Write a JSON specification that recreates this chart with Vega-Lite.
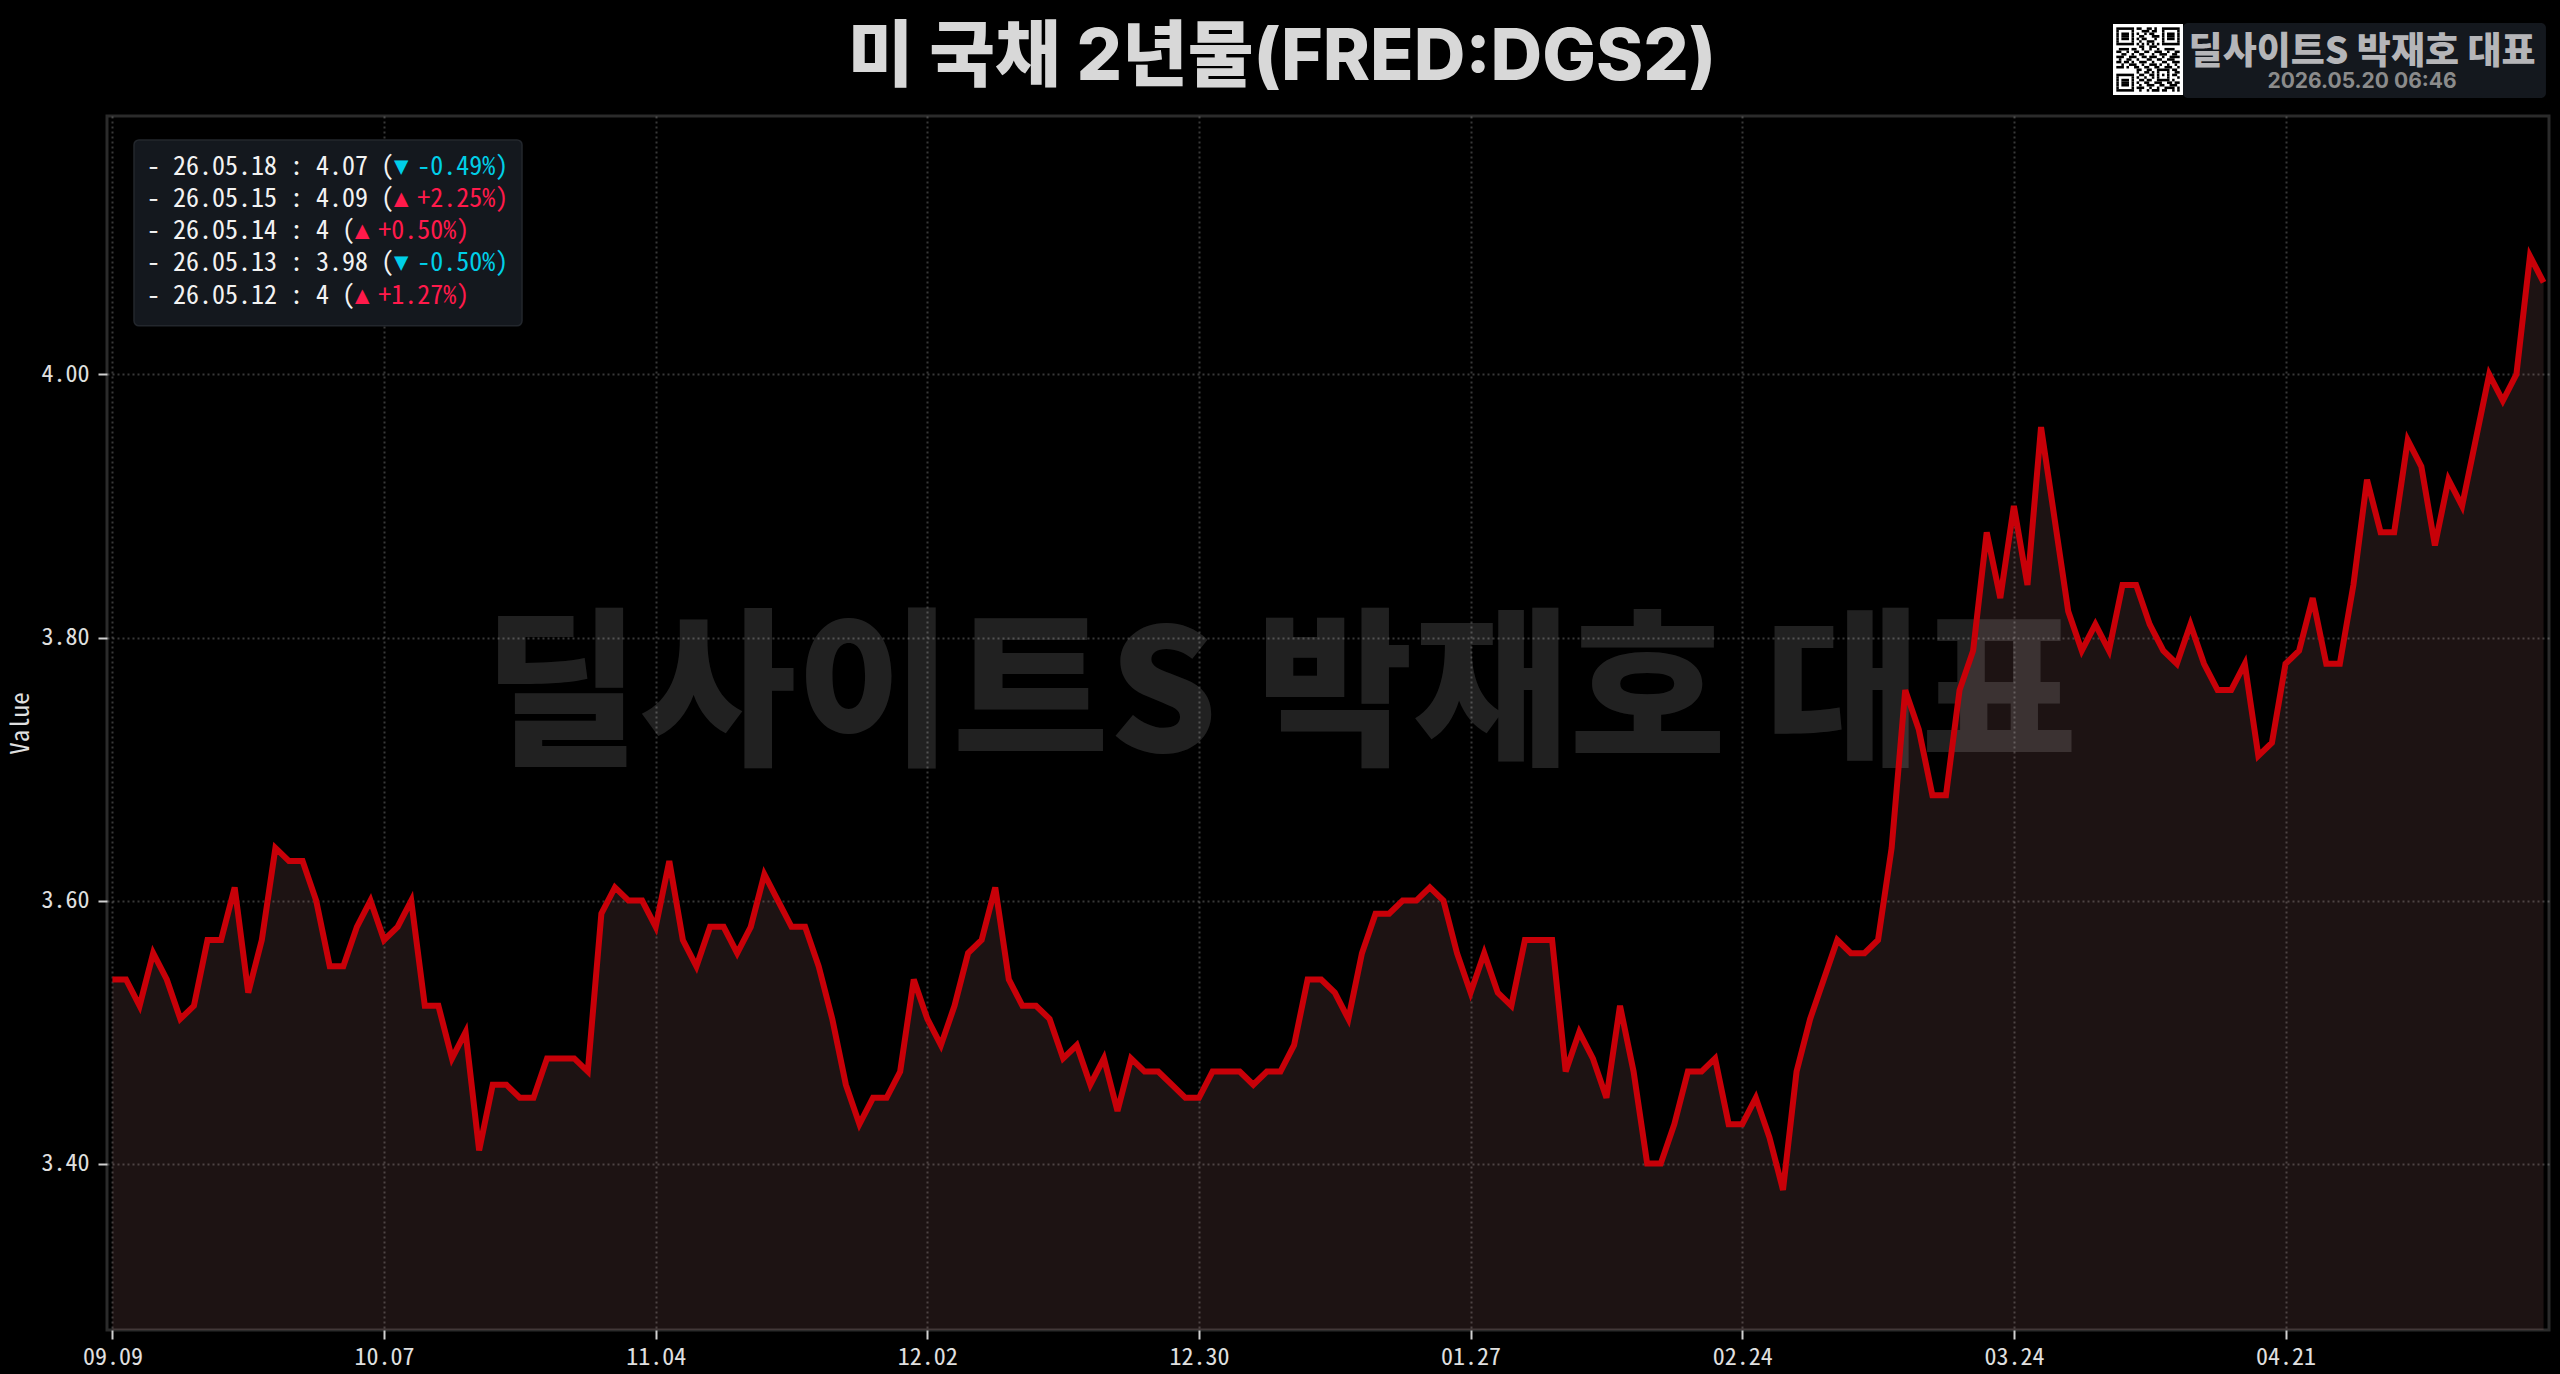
{"$schema":"https://vega.github.io/schema/vega-lite/v6.json","width":2442,"height":1214,"autosize":"none","padding":{"left":107,"top":116,"right":11,"bottom":44},"background":"#000000","config":{"view":{"stroke":"#2b2b2b","strokeWidth":3}},"title":{"text":"미 국채 2년물(FRED:DGS2)","anchor":"middle","dx":-46,"offset":-73,"fontSize":71.5,"font":"Inter, Noto Sans CJK KR","fontWeight":800,"color":"#d8d8d8"},
"datasets":{"yields":[{"date":"09.09","value":3.54},{"date":"09.10","value":3.54},{"date":"09.11","value":3.52},{"date":"09.12","value":3.56},{"date":"09.15","value":3.54},{"date":"09.16","value":3.51},{"date":"09.17","value":3.52},{"date":"09.18","value":3.57},{"date":"09.19","value":3.57},{"date":"09.22","value":3.61},{"date":"09.23","value":3.53},{"date":"09.24","value":3.57},{"date":"09.25","value":3.64},{"date":"09.26","value":3.63},{"date":"09.29","value":3.63},{"date":"09.30","value":3.60},{"date":"10.01","value":3.55},{"date":"10.02","value":3.55},{"date":"10.03","value":3.58},{"date":"10.06","value":3.60},{"date":"10.07","value":3.57},{"date":"10.08","value":3.58},{"date":"10.09","value":3.60},{"date":"10.10","value":3.52},{"date":"10.13","value":3.52},{"date":"10.14","value":3.48},{"date":"10.15","value":3.50},{"date":"10.16","value":3.41},{"date":"10.17","value":3.46},{"date":"10.20","value":3.46},{"date":"10.21","value":3.45},{"date":"10.22","value":3.45},{"date":"10.23","value":3.48},{"date":"10.24","value":3.48},{"date":"10.27","value":3.48},{"date":"10.28","value":3.47},{"date":"10.29","value":3.59},{"date":"10.30","value":3.61},{"date":"10.31","value":3.60},{"date":"11.03","value":3.60},{"date":"11.04","value":3.58},{"date":"11.05","value":3.63},{"date":"11.06","value":3.57},{"date":"11.07","value":3.55},{"date":"11.10","value":3.58},{"date":"11.11","value":3.58},{"date":"11.12","value":3.56},{"date":"11.13","value":3.58},{"date":"11.14","value":3.62},{"date":"11.17","value":3.60},{"date":"11.18","value":3.58},{"date":"11.19","value":3.58},{"date":"11.20","value":3.55},{"date":"11.21","value":3.51},{"date":"11.24","value":3.46},{"date":"11.25","value":3.43},{"date":"11.26","value":3.45},{"date":"11.27","value":3.45},{"date":"11.28","value":3.47},{"date":"12.01","value":3.54},{"date":"12.02","value":3.51},{"date":"12.03","value":3.49},{"date":"12.04","value":3.52},{"date":"12.05","value":3.56},{"date":"12.08","value":3.57},{"date":"12.09","value":3.61},{"date":"12.10","value":3.54},{"date":"12.11","value":3.52},{"date":"12.12","value":3.52},{"date":"12.15","value":3.51},{"date":"12.16","value":3.48},{"date":"12.17","value":3.49},{"date":"12.18","value":3.46},{"date":"12.19","value":3.48},{"date":"12.22","value":3.44},{"date":"12.23","value":3.48},{"date":"12.24","value":3.47},{"date":"12.25","value":3.47},{"date":"12.26","value":3.46},{"date":"12.29","value":3.45},{"date":"12.30","value":3.45},{"date":"12.31","value":3.47},{"date":"01.01","value":3.47},{"date":"01.02","value":3.47},{"date":"01.05","value":3.46},{"date":"01.06","value":3.47},{"date":"01.07","value":3.47},{"date":"01.08","value":3.49},{"date":"01.09","value":3.54},{"date":"01.12","value":3.54},{"date":"01.13","value":3.53},{"date":"01.14","value":3.51},{"date":"01.15","value":3.56},{"date":"01.16","value":3.59},{"date":"01.19","value":3.59},{"date":"01.20","value":3.60},{"date":"01.21","value":3.60},{"date":"01.22","value":3.61},{"date":"01.23","value":3.60},{"date":"01.26","value":3.56},{"date":"01.27","value":3.53},{"date":"01.28","value":3.56},{"date":"01.29","value":3.53},{"date":"01.30","value":3.52},{"date":"02.02","value":3.57},{"date":"02.03","value":3.57},{"date":"02.04","value":3.57},{"date":"02.05","value":3.47},{"date":"02.06","value":3.50},{"date":"02.09","value":3.48},{"date":"02.10","value":3.45},{"date":"02.11","value":3.52},{"date":"02.12","value":3.47},{"date":"02.13","value":3.40},{"date":"02.16","value":3.40},{"date":"02.17","value":3.43},{"date":"02.18","value":3.47},{"date":"02.19","value":3.47},{"date":"02.20","value":3.48},{"date":"02.23","value":3.43},{"date":"02.24","value":3.43},{"date":"02.25","value":3.45},{"date":"02.26","value":3.42},{"date":"02.27","value":3.38},{"date":"03.02","value":3.47},{"date":"03.03","value":3.51},{"date":"03.04","value":3.54},{"date":"03.05","value":3.57},{"date":"03.06","value":3.56},{"date":"03.09","value":3.56},{"date":"03.10","value":3.57},{"date":"03.11","value":3.64},{"date":"03.12","value":3.76},{"date":"03.13","value":3.73},{"date":"03.16","value":3.68},{"date":"03.17","value":3.68},{"date":"03.18","value":3.76},{"date":"03.19","value":3.79},{"date":"03.20","value":3.88},{"date":"03.23","value":3.83},{"date":"03.24","value":3.90},{"date":"03.25","value":3.84},{"date":"03.26","value":3.96},{"date":"03.27","value":3.89},{"date":"03.30","value":3.82},{"date":"03.31","value":3.79},{"date":"04.01","value":3.81},{"date":"04.02","value":3.79},{"date":"04.03","value":3.84},{"date":"04.06","value":3.84},{"date":"04.07","value":3.81},{"date":"04.08","value":3.79},{"date":"04.09","value":3.78},{"date":"04.10","value":3.81},{"date":"04.13","value":3.78},{"date":"04.14","value":3.76},{"date":"04.15","value":3.76},{"date":"04.16","value":3.78},{"date":"04.17","value":3.71},{"date":"04.20","value":3.72},{"date":"04.21","value":3.78},{"date":"04.22","value":3.79},{"date":"04.23","value":3.83},{"date":"04.24","value":3.78},{"date":"04.27","value":3.78},{"date":"04.28","value":3.84},{"date":"04.29","value":3.92},{"date":"04.30","value":3.88},{"date":"05.01","value":3.88},{"date":"05.04","value":3.95},{"date":"05.05","value":3.93},{"date":"05.06","value":3.87},{"date":"05.07","value":3.92},{"date":"05.08","value":3.90},{"date":"05.11","value":3.95},{"date":"05.12","value":4.00},{"date":"05.13","value":3.98},{"date":"05.14","value":4.00},{"date":"05.15","value":4.09},{"date":"05.18","value":4.07}],
"recent":[{"date":"26.05.18","value":"4.07","dir":"▼","pct":"-0.49%"},{"date":"26.05.15","value":"4.09","dir":"▲","pct":"+2.25%"},{"date":"26.05.14","value":"4","dir":"▲","pct":"+0.50%"},{"date":"26.05.13","value":"3.98","dir":"▼","pct":"-0.50%"},{"date":"26.05.12","value":"4","dir":"▲","pct":"+1.27%"}],
"qr":[[0,0,7],[0,8,10],[0,12,14],[0,15,16],[0,18,25],[1,0,1],[1,6,7],[1,10,13],[1,14,16],[1,18,19],[1,24,25],[2,0,1],[2,2,5],[2,6,7],[2,8,9],[2,11,12],[2,13,15],[2,18,19],[2,20,23],[2,24,25],[3,0,1],[3,2,5],[3,6,7],[3,9,11],[3,14,17],[3,18,19],[3,20,23],[3,24,25],[4,0,1],[4,2,5],[4,6,7],[4,8,9],[4,10,12],[4,15,16],[4,18,19],[4,20,23],[4,24,25],[5,0,1],[5,6,7],[5,9,10],[5,12,15],[5,18,19],[5,24,25],[6,0,7],[6,8,9],[6,10,11],[6,12,13],[6,14,15],[6,16,17],[6,18,25],[7,9,11],[7,13,16],[8,1,5],[8,6,8],[8,10,11],[8,13,14],[8,16,17],[8,19,23],[9,0,2],[9,4,5],[9,7,9],[9,11,13],[9,15,18],[9,20,21],[9,23,25],[10,2,4],[10,6,7],[10,9,11],[10,14,15],[10,17,20],[10,22,24],[11,0,3],[11,5,8],[11,10,12],[11,13,16],[11,18,19],[11,21,25],[12,1,2],[12,4,6],[12,8,9],[12,12,14],[12,16,18],[12,20,23],[13,0,2],[13,3,5],[13,6,7],[13,9,12],[13,14,15],[13,18,20],[13,22,25],[14,2,3],[14,5,8],[14,10,11],[14,13,16],[14,17,18],[14,20,21],[14,23,24],[15,0,3],[15,4,5],[15,7,9],[15,11,13],[15,15,17],[15,19,22],[15,24,25],[16,8,10],[16,12,14],[16,16,21],[16,22,24],[17,8,9],[17,11,13],[17,14,15],[17,16,17],[17,20,21],[17,23,25],[18,0,7],[18,9,11],[18,13,15],[18,16,17],[18,18,19],[18,20,21],[18,22,24],[19,0,1],[19,6,7],[19,8,9],[19,11,12],[19,14,15],[19,16,17],[19,20,21],[19,24,25],[20,0,1],[20,2,5],[20,6,7],[20,9,11],[20,12,14],[20,16,21],[20,22,23],[21,0,1],[21,2,5],[21,6,7],[21,8,9],[21,11,13],[21,15,18],[21,20,22],[21,23,25],[22,0,1],[22,2,5],[22,6,7],[22,9,10],[22,12,15],[22,17,19],[22,21,24],[23,0,1],[23,6,7],[23,8,11],[23,13,14],[23,16,17],[23,19,23],[23,24,25],[24,0,7],[24,9,10],[24,12,13],[24,14,17],[24,18,20],[24,22,23],[24,24,25]]},
"layer":[
{"layer":[
{"data":{"name":"yields"},"mark":{"type":"area","fill":"#f29e9e","opacity":0.12,"stroke":null},"encoding":{"x":{"field":"date","type":"ordinal","sort":null,"scale":{"type":"point","padding":0.4},"title":null,"axis":{"values":["09.09","10.07","11.04","12.02","12.30","01.27","02.24","03.24","04.21"],"labelAngle":0,"labelFont":"Noto Sans Mono CJK KR, DejaVu Sans Mono","labelFontSize":24,"labelColor":"#e0e0e0","labelPadding":6,"tickColor":"#d0d0d0","tickSize":9,"tickWidth":2,"domain":false,"grid":true,"gridColor":"#ffffff","gridOpacity":0.22,"gridDash":[2,3],"gridWidth":2}},"y":{"field":"value","type":"quantitative","scale":{"domain":[3.2735,4.1965],"nice":false,"zero":false},"title":"Value","axis":{"values":[3.4,3.6,3.8,4.0],"format":".2f","labelFont":"Noto Sans Mono CJK KR, DejaVu Sans Mono","labelFontSize":24,"labelColor":"#e0e0e0","labelPadding":9,"tickColor":"#d0d0d0","tickSize":9,"tickWidth":2,"domain":false,"grid":true,"gridColor":"#ffffff","gridOpacity":0.22,"gridDash":[2,3],"gridWidth":2,"titleFont":"Noto Sans Mono CJK KR, DejaVu Sans Mono","titleFontSize":25,"titleFontWeight":"normal","titleColor":"#e0e0e0","titlePadding":8}},"y2":{"datum":3.2735}}},
{"data":{"name":"yields"},"transform":[{"filter":"datum.date === '01.07'"}],"mark":{"type":"text","text":"딜사이트S 박재호 대표","font":"Noto Sans CJK KR","fontWeight":900,"fontSize":170,"fill":"#ffffff","opacity":0.13,"align":"center","baseline":"middle"},"encoding":{"x":{"field":"date","type":"ordinal","sort":null},"y":{"datum":3.752}}},
{"data":{"name":"yields"},"mark":{"type":"line","stroke":"#c80008","strokeWidth":6,"strokeJoin":"miter"},"encoding":{"x":{"field":"date","type":"ordinal","sort":null},"y":{"field":"value","type":"quantitative"}}}
]},
{"layer":[
{"data":{"values":[{}]},"mark":{"type":"rect","fill":"#14181e","stroke":"#23272d","strokeWidth":1.5,"cornerRadius":5},"encoding":{"x":{"datum":0,"type":"quantitative","scale":{"domain":[0,29.85],"range":[27,415],"nice":false,"zero":false},"axis":null},"x2":{"datum":29.85},"y":{"datum":0.165,"type":"quantitative","scale":{"domain":[0,6],"range":[18.6,211.8],"nice":false,"zero":false},"axis":null},"y2":{"datum":5.94}}},
{"data":{"name":"recent"},"transform":[{"window":[{"op":"row_number","as":"row"}]},{"calculate":"'- ' + datum.date + ' : ' + datum.value + ' ('","as":"head"},{"calculate":"1","as":"start"}],"mark":{"type":"text","font":"Noto Sans Mono CJK KR, DejaVu Sans Mono","fontSize":26,"fill":"#f2f2f2","align":"left","baseline":"middle"},"encoding":{"x":{"field":"start","type":"quantitative"},"y":{"field":"row","type":"quantitative"},"text":{"field":"head"}}},
{"data":{"name":"recent"},"transform":[{"window":[{"op":"row_number","as":"row"}]},{"calculate":"1 + length('- ' + datum.date + ' : ' + datum.value + ' (')","as":"start"}],"mark":{"type":"text","font":"DejaVu Sans Mono","fontSize":24,"align":"left","baseline":"middle"},"encoding":{"x":{"field":"start","type":"quantitative"},"y":{"field":"row","type":"quantitative"},"text":{"field":"dir"},"color":{"field":"dir","type":"nominal","scale":{"domain":["▲","▼"],"range":["#ff1a4b","#00cfe8"]},"legend":null}}},
{"data":{"name":"recent"},"transform":[{"window":[{"op":"row_number","as":"row"}]},{"calculate":"datum.pct + ')'","as":"tail"},{"calculate":"2.8 + length('- ' + datum.date + ' : ' + datum.value + ' (')","as":"start"}],"mark":{"type":"text","font":"Noto Sans Mono CJK KR, DejaVu Sans Mono","fontSize":26,"align":"left","baseline":"middle"},"encoding":{"x":{"field":"start","type":"quantitative"},"y":{"field":"row","type":"quantitative"},"text":{"field":"tail"},"color":{"field":"dir","type":"nominal"}}}
]},
{"layer":[
{"data":{"values":[{}]},"mark":{"type":"rect","fill":"#14181e","cornerRadius":5},"encoding":{"x":{"datum":26.3,"type":"quantitative","scale":{"domain":[-1.3,26.3],"range":[2006,2076],"nice":false,"zero":false},"axis":null},"x2":{"datum":169.4},"y":{"datum":-1.69,"type":"quantitative","scale":{"domain":[-1.3,26.3],"range":[-92,-21],"nice":false,"zero":false},"axis":null},"y2":{"datum":27.47}}},
{"data":{"values":[{}]},"mark":{"type":"rect","fill":"#ffffff"},"encoding":{"x":{"datum":-1.3,"type":"quantitative"},"x2":{"datum":26.3},"y":{"datum":-1.3,"type":"quantitative"},"y2":{"datum":26.3}}},
{"data":{"name":"qr"},"transform":[{"calculate":"datum[0]","as":"row"},{"calculate":"datum[1]","as":"from"},{"calculate":"datum[2]","as":"to"},{"calculate":"datum[0] + 1","as":"rowEnd"}],"mark":{"type":"rect","fill":"#000000"},"encoding":{"x":{"field":"from","type":"quantitative"},"x2":{"field":"to"},"y":{"field":"row","type":"quantitative"},"y2":{"field":"rowEnd"}}},
{"data":{"values":[{}]},"mark":{"type":"text","text":"딜사이트S 박재호 대표","font":"Noto Sans CJK KR","fontWeight":900,"fontSize":37,"fill":"#b5b5b8","align":"center","baseline":"middle"},"encoding":{"x":{"datum":96.9,"type":"quantitative"},"y":{"datum":9.98,"type":"quantitative"}}},
{"data":{"values":[{}]},"mark":{"type":"text","text":"2026.05.20 06:46","font":"Inter, Noto Sans CJK KR","fontWeight":700,"fontSize":21,"fill":"#8b8b8b","align":"center","baseline":"middle"},"encoding":{"x":{"datum":96.9,"type":"quantitative"},"y":{"datum":21.25,"type":"quantitative"}}}
]}
],"resolve":{"scale":{"x":"independent","y":"independent"},"axis":{"x":"independent","y":"independent"}}}
